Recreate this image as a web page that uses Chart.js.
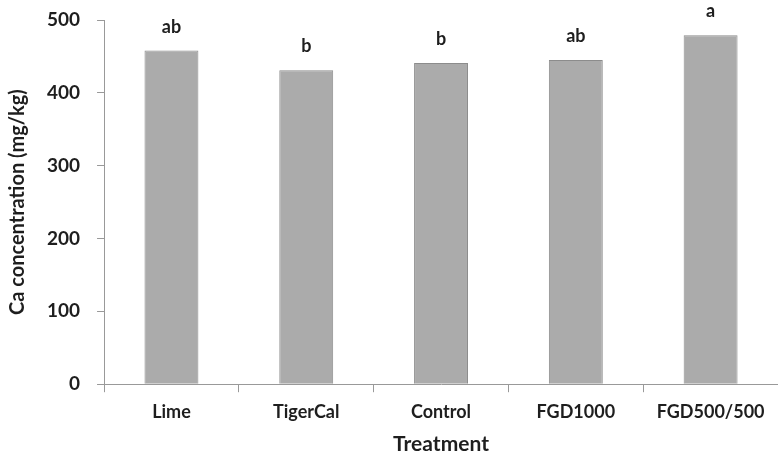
<!DOCTYPE html>
<html>
<head>
<meta charset="utf-8">
<script src="https://cdn.jsdelivr.net/npm/chart.js@4"></script>
<style>
  body { margin: 0; background: #fff; }
  #grafico { display: block; }
</style>
</head>
<body>
<canvas id="grafico" width="778" height="461"></canvas>
<script>
// datos
const tratamientos = ["Lime", "TigerCal", "Control", "FGD1000", "FGD500/500"];
const concentracionCa = [458, 431, 441, 445, 479];
const letras = ["ab", "b", "b", "ab", "a"];

const fuente = "Lato, 'Open Sans', sans-serif";

// dibuja las letras de significancia encima de cada barra
const pluginLetras = {
    id: "letras",
    afterDatasetsDraw(chart) {
        const ctx = chart.ctx;
        const meta = chart.getDatasetMeta(0);
        ctx.save();
        ctx.font = "bold 18px " + fuente;
        ctx.fillStyle = "#1e1e1e";
        ctx.textAlign = "center";
        ctx.textBaseline = "alphabetic";
        meta.data.forEach(function(barra, i) {
            ctx.fillText(letras[i], barra.x, barra.y - 18);
        });
        ctx.restore();
    }
};

const ctx = document.getElementById("grafico").getContext("2d");
const chart = new Chart(ctx, {
    type: "bar",
    data: {
        labels: tratamientos,
        datasets: [{
            label: "Ca concentration",
            data: concentracionCa,
            backgroundColor: "#ababab",
            borderColor: "#8c8c8c",
            borderWidth: 1,
            categoryPercentage: 1,
            barPercentage: 0.4
        }]
    },
    options: {
        responsive: false,
        animation: false,
        layout: {
            padding: { top: 0, right: -6, left: 0, bottom: 2 }
        },
        plugins: {
            legend: { display: false },
            tooltip: { enabled: false }
        },
        scales: {
            x: {
                grid: { drawOnChartArea: false, drawTicks: true, tickLength: 8, color: "#999" },
                border: { color: "#999" },
                ticks: {
                    color: "#1e1e1e",
                    padding: 9,
                    maxRotation: 0,
                    font: { family: fuente, size: 18, weight: "bold" }
                },
                title: {
                    display: true,
                    text: "Treatment",
                    color: "#1e1e1e",
                    padding: { top: 0, bottom: 2 },
                    font: { family: fuente, size: 21, weight: "bold" }
                }
            },
            y: {
                min: 0,
                max: 500,
                afterFit: function(escala) {
                    // el 500 queda pegado al borde superior como en la figura
                    escala.paddingTop = 20;
                },
                grid: { drawOnChartArea: false, drawTicks: true, tickLength: 7, color: "#999" },
                border: { color: "#999" },
                ticks: {
                    stepSize: 100,
                    color: "#1e1e1e",
                    padding: 17,
                    font: { family: fuente, size: 19, weight: "bold" }
                },
                title: {
                    display: true,
                    text: "Ca concentration (mg/kg)",
                    color: "#1e1e1e",
                    padding: { top: 6, bottom: 0 },
                    font: { family: fuente, size: 20, weight: "bold" }
                }
            }
        }
    },
    plugins: [pluginLetras]
});
</script>
</body>
</html>
